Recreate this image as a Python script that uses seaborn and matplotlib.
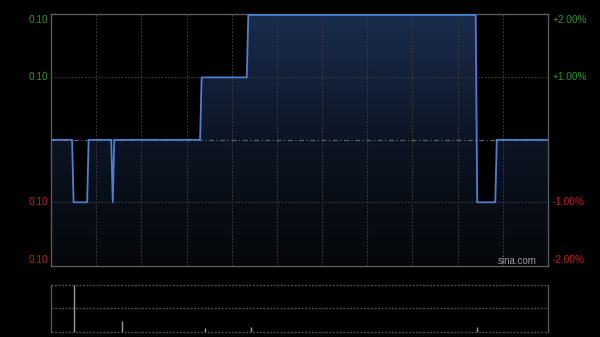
import numpy as np
import pandas as pd
import matplotlib
matplotlib.use("Agg")
import matplotlib.pyplot as plt
import seaborn as sns
from matplotlib.colors import LinearSegmentedColormap
from matplotlib.patches import PathPatch

# ---- data (HK session, minutes from 9:30, 330 trading minutes) ----
prev_close = 0.100
minutes = [0, 14, 15, 24, 25, 40, 41, 42, 99, 100, 130, 131, 282, 283, 295, 296, 330]
prices = [0.100, 0.100, 0.099, 0.099, 0.100, 0.100, 0.099, 0.100, 0.100, 0.101,
          0.101, 0.102, 0.102, 0.099, 0.099, 0.100, 0.100]
vol_minutes = [15, 47, 102, 133, 283]
volumes = [1000000, 227000, 70000, 106000, 92000]
left_labels = ["0.10", "0.10", "0.10", "0.10"]
right_labels = ["+2.00%", "+1.00%", "-1.00%", "-2.00%"]
label_pcts = [2, 1, -1, -2]

sns.set_style("dark")
plt.rcParams["font.family"] = ["Liberation Sans", "DejaVu Sans"]

W, H = 600, 337
fig = plt.figure(figsize=(6, 3.37), dpi=100, facecolor="black")
ax = fig.add_axes([51 / W, 1 - 266 / H, 497 / W, (266 - 13.7) / H])
axv = fig.add_axes([51 / W, 1 - 331.7 / H, 497 / W, 47 / H])
for a in (ax, axv):
    a.set_facecolor("black")
    a.set_xticks([])
    a.set_yticks([])
    a.grid(False)

ymin, ymax = prev_close * 0.98, prev_close * 1.02

# gradient fill under line
poly = ax.fill_between(minutes, prices, ymin, facecolor="none", edgecolor="none")
patch = PathPatch(poly.get_paths()[0], transform=ax.transData,
                  facecolor="none", edgecolor="none")
ax.add_patch(patch)
cmap = LinearSegmentedColormap.from_list("g", ["#05070b", "#0c1524", "#1a2c4e"])
grad = np.linspace(1, 0, 256).reshape(-1, 1)
im = ax.imshow(grad, extent=[0, 330, ymin, ymax], aspect="auto", cmap=cmap,
               origin="upper", zorder=1, interpolation="bilinear")
im.set_clip_path(patch)

# grid
for m in range(30, 330, 30):
    ax.axvline(m, color="#3a3a3a", ls=(0, (1.5, 1.5)), lw=0.8, zorder=3)
for p in (1, -1):
    ax.axhline(prev_close * (1 + p / 100), color="#3a3a3a", ls=(0, (1.5, 1.5)), lw=0.8, zorder=3)
ax.axhline(prev_close, color="#606060", ls=(0, (4, 2, 1, 2)), lw=0.9, zorder=3)

df = pd.DataFrame({"minute": minutes, "price": prices})
sns.lineplot(data=df, x="minute", y="price", ax=ax, color="#4a80d2", lw=1.3, zorder=5)
ax.set_xlabel("")
ax.set_ylabel("")
ax.set_xlim(0, 330)
ax.set_ylim(ymin - 0.00002, ymax + 0.00002)
for s in ax.spines.values():
    s.set_color("#5a5a5a")
    s.set_linewidth(1)
    s.set_visible(True)

# labels
trans = ax.get_yaxis_transform()
fs = 7.2
for lab, rl, p in zip(left_labels, right_labels, label_pcts):
    y = prev_close * (1 + p / 100)
    col = "#1d9e1d" if p > 0 else "#d01a10"
    va = "center"
    if p == 2:
        va = "top"
    elif p == -2:
        va = "bottom"
    ax.text(-3 / 497, y, lab, transform=trans, ha="right", va=va, color=col, fontsize=fs)
    ax.text(1 + 5 / 497, y, rl, transform=trans, ha="left", va=va, color=col, fontsize=fs)

ax.text((537 - 51) / 497, (266 - 261.5) / 252.3, "sina.com", transform=ax.transAxes,
        ha="right", va="center", color="#9a9a9a", fontsize=7)

# volume panel
vmax = max(volumes)
axv.vlines(vol_minutes, 0, volumes, color="#9a9a9a", lw=1)
axv.set_xlim(0, 330)
axv.set_ylim(0, vmax)
for yv in (0, vmax / 2, vmax):
    axv.axhline(yv, color="#4a4a4a", ls=(0, (1.5, 1)), lw=1, clip_on=False, zorder=0)
for k, s in axv.spines.items():
    if k in ("top", "bottom"):
        s.set_visible(False)
    else:
        s.set_color("#555555")
        s.set_linewidth(1)

fig.savefig("out.png", dpi=100, facecolor="black")
